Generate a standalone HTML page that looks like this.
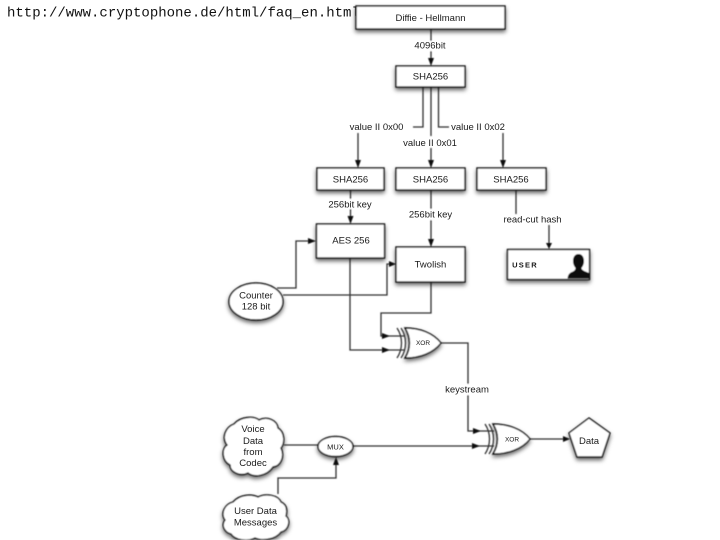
<!DOCTYPE html>
<html>
<head>
<meta charset="utf-8">
<style>
html,body{margin:0;padding:0;background:#fff;width:720px;height:540px;overflow:hidden}
svg{position:absolute;left:0;top:0;display:block}
.t{font-family:"Liberation Sans",sans-serif;font-size:9.500px;fill:#1a1a1a;text-anchor:middle;dominant-baseline:central}
.u{font-family:"Liberation Mono",monospace;font-size:14px;fill:#111}
.b{fill:#fff;stroke:#111;stroke-width:1.4}
.l{fill:none;stroke:#333;stroke-width:1.300}
.a{fill:#111;stroke:none}
</style>
</head>
<body>
<svg width="720" height="540" viewBox="0 0 720 540" xmlns="http://www.w3.org/2000/svg">
<defs>
<filter id="s" filterUnits="userSpaceOnUse" x="0" y="0" width="720" height="540">
<feDropShadow dx="0" dy="2.500" stdDeviation="2" flood-color="#000" flood-opacity="0.6"/>
</filter>
<filter id="bl" filterUnits="userSpaceOnUse" x="0" y="0" width="720" height="540"><feGaussianBlur stdDeviation="0.4"/></filter>
<filter id="bt" filterUnits="userSpaceOnUse" x="0" y="0" width="720" height="540"><feGaussianBlur stdDeviation="0.3"/></filter>
</defs>

<text class="u" x="7" y="16.500">http://www.cryptophone.de/html/faq_en.html</text>

<g filter="url(#bl)">
<!-- connectors -->
<g class="l">
<path d="M431 29V58"/>
<path d="M423 87V127H413"/>
<path d="M431 87V136M431 148V162"/>
<path d="M438.500 87V127H449"/>
<path d="M358 133V162"/>
<path d="M503 133V162"/>
<path d="M350.500 190V218"/>
<path d="M431 190V241"/>
<path d="M516 190V214"/>
<path d="M549 225V243"/>
<path d="M277 288H296V241H308"/>
<path d="M283 295H387V264H390"/>
<path d="M350 258V350H384"/>
<path d="M431 282V313H381V336H384"/>
<path d="M384 336H404M384 350H404"/>
<path d="M441 343H468V431H472"/>
<path d="M284 445H318"/>
<path d="M353 446H472"/>
<path d="M472 431H494M472 446H494"/>
<path d="M278 494V478H336V464"/>
<path d="M530 439H563"/>
</g>

<!-- arrowheads -->
<g class="a">
<path d="M428 58H434L431 66Z"/>
<path d="M355 160H361L358 168Z"/>
<path d="M428 160H434L431 168Z"/>
<path d="M500 160H506L503 168Z"/>
<path d="M347.500 216H353.500L350.500 224Z"/>
<path d="M428 239H434L431 247Z"/>
<path d="M546 243H552L549 249Z"/>
<path d="M308 238V244L316 241Z"/>
<path d="M389 261V267L396 264Z"/>
<path d="M382 333V339L390 336Z"/>
<path d="M382 347V353L390 350Z"/>
<path d="M473 428V434L481 431Z"/>
<path d="M472 443V449L480 446Z"/>
<path d="M563 436V442L570 439Z"/>
<path d="M333 465H339L336 457Z"/>
</g>

<!-- boxes -->
<g filter="url(#s)">
<rect class="b" x="356" y="6" width="149" height="23"/>
<rect class="b" x="396" y="66" width="69" height="21"/>
<rect class="b" x="317" y="168" width="67" height="22"/>
<rect class="b" x="396" y="168" width="69" height="22"/>
<rect class="b" x="477" y="168" width="69" height="22"/>
<rect class="b" x="316.500" y="224" width="68" height="34"/>
<rect class="b" x="396" y="247" width="69" height="35"/>
<rect class="b" x="507.500" y="249.500" width="82" height="30"/>
<ellipse class="b" cx="256" cy="301.500" rx="27" ry="18.500"/>
<ellipse class="b" cx="335.500" cy="446.500" rx="17.500" ry="10"/>
<path class="b" d="M405 328C420 328 433 333 441 343C433 353 420 358 405 358C411 349 411 337 405 328Z"/>
<path class="b" d="M493 424C508 424 522 429 530 439C522 449 508 454 493 454C499 445 499 433 493 424Z"/>
<path class="b" d="M589 418L610 433L602 457H577L569 433Z"/>
<path class="b" d="M234 424C241 416 254 416 259 420C267 416 277 420 278 428C285 432 285 443 281 448C285 456 281 466 273 467C267 476 254 478 248 473C240 477 230 472 230 465C222 461 221 449 227 445C221 437 226 427 234 424Z"/>
<path class="b" d="M233 502C240 494 252 494 258 497C266 493 278 495 281 502C288 505 287 512 286 516C291 520 289 530 281 532C275 540 262 541 255 538C247 542 235 540 231 534C224 532 221 525 225 520C220 513 225 504 233 502Z"/>
</g>

<!-- XOR back arcs -->
<g class="l">
<path d="M397 328C403 337 403 349 397 358"/>
<path d="M401 328C407 337 407 349 401 358"/>
<path d="M485 424C491 433 491 445 485 454"/>
<path d="M489 424C495 433 495 445 489 454"/>
</g>

<!-- user silhouette -->
<path fill="#111" d="M578.500 254C582 254 584 257 584 261C584 264 583 266 581.500 268C581.500 270 584 271 589 273V278.500H567.500C568 275 569 273 572 272C574 271 575.500 270 575.500 268C574 266 573 264 573 261C573 257 575 254 578.500 254Z"/>

<!-- label backgrounds -->
<rect x="412" y="41" width="37" height="10" fill="#fff"/>
<rect x="326" y="199" width="50" height="10" fill="#fff"/>
<rect x="407" y="209" width="48" height="11" fill="#fff"/>
<rect x="444" y="384" width="46" height="11" fill="#fff"/>
</g>

<!-- labels -->
<g filter="url(#bt)" transform="translate(0 0.7)">
<text class="t" x="430.500" y="18">Diffie - Hellmann</text>
<text class="t" x="430" y="45.500">4096bit</text>
<text class="t" x="430.500" y="76.500">SHA256</text>
<text class="t" x="376.500" y="127">value II 0x00</text>
<text class="t" x="478" y="127">value II 0x02</text>
<text class="t" x="430" y="143">value II 0x01</text>
<text class="t" x="350.500" y="179.500">SHA256</text>
<text class="t" x="430.500" y="179.500">SHA256</text>
<text class="t" x="511" y="179.500">SHA256</text>
<text class="t" x="350" y="204.500">256bit key</text>
<text class="t" x="430.500" y="214.500">256bit key</text>
<text class="t" x="532.500" y="219.500">read-cut hash</text>
<text class="t" x="351" y="240.500">AES 256</text>
<text class="t" x="430.500" y="264.500">Twolish</text>
<text class="t" x="525" y="264.500" style="font-size:7.500px;font-weight:bold;letter-spacing:1.200px">USER</text>
<text class="t" x="256" y="295.500">Counter</text>
<text class="t" x="256" y="306.500">128 bit</text>
<text class="t" x="423" y="343" style="font-size:6.500px">XOR</text>
<text class="t" x="467" y="389.500">keystream</text>
<text class="t" x="253" y="429">Voice</text>
<text class="t" x="253" y="441">Data</text>
<text class="t" x="253" y="452">from</text>
<text class="t" x="253" y="463">Codec</text>
<text class="t" x="335.500" y="446.500" style="font-size:7.500px">MUX</text>
<text class="t" x="255.500" y="511">User Data</text>
<text class="t" x="255.500" y="522.500">Messages</text>
<text class="t" x="512" y="439.500" style="font-size:6.500px">XOR</text>
<text class="t" x="589" y="441">Data</text>
</g>
</svg>
</body>
</html>
